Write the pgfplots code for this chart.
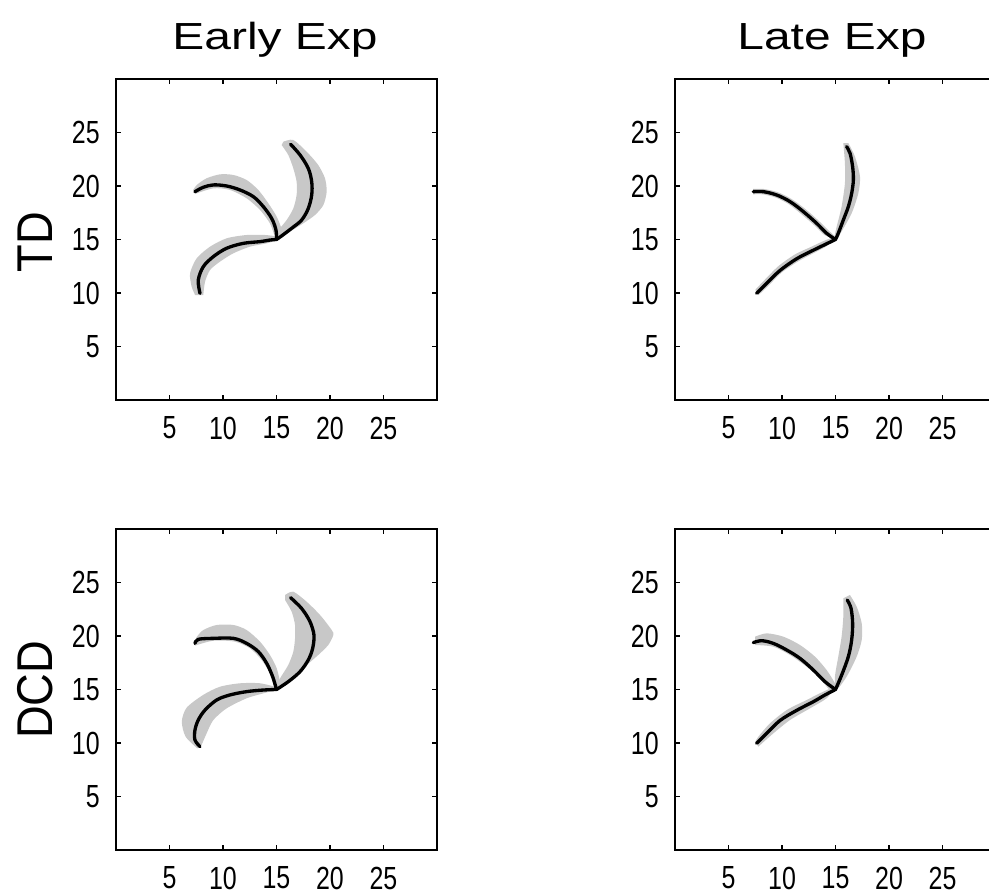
\documentclass[border=0pt]{standalone}
\usepackage{pgfplots}
\pgfplotsset{compat=1.18}
\usepackage{graphicx}
\usepackage{fontspec}
\setmainfont{Liberation Sans}
\definecolor{band}{RGB}{200,200,200}
\newcommand\sx[1]{\scalebox{0.78}[1]{#1}}
\pgfplotsset{
  panel/.style={
    scale only axis, width=240.75pt, height=240.75pt,
    xmin=0, xmax=30, ymin=0, ymax=30,
    xtick={5,10,15,20,25}, ytick={5,10,15,20,25},
    xticklabels={\sx{5},\sx{10},\sx{15},\sx{20},\sx{25}},
    yticklabels={\sx{5},\sx{10},\sx{15},\sx{20},\sx{25}},
    tick align=inside, major tick length=4pt,
    every tick/.style={black, line width=0.9pt},
    axis line style={black, line width=1.2pt},
    tick label style={font=\fontsize{24pt}{24pt}\selectfont, inner sep=0pt},
    xticklabel style={anchor=north, yshift=-12.5pt},
    yticklabel style={anchor=east, xshift=-12pt},
    anchor=south west,
  },
  bandst/.style={fill=band, draw=none, smooth, tension=0.45},
  linest/.style={black, line width=2.5pt, smooth, tension=0.55, line join=round, line cap=round},
}
\begin{document}
\begin{tikzpicture}[x=1pt,y=1pt]
% ---------- Early Exp / TD ----------
\begin{axis}[panel, at={(87pt,371.25pt)}]
\addplot[bandst] coordinates {(7.2,19.6) (7.54,20.09) (8.47,20.72) (9.72,21.09) (10.97,21.03) (12.21,20.56) (13.3,19.63) (14.24,18.38) (15.02,17.13) (15.48,15.89) (15.2,15.0) (14.86,15.26) (14.39,16.5) (13.46,17.76) (12.21,18.85) (10.65,19.63) (9.1,19.78) (7.38,19.25)} -- cycle;
\addplot[bandst] coordinates {(15.64,24.14) (16.57,24.3) (17.82,23.2) (18.9,21.96) (19.53,20.72) (19.69,19.47) (19.38,18.22) (18.6,17.29) (17.5,16.51) (16.26,15.73) (15.2,15.1) (15.0,15.6) (15.95,16.82) (16.57,17.9) (16.88,19.16) (16.88,20.4) (16.57,21.65) (16.1,22.9) (15.48,23.83)} -- cycle;
\addplot[bandst] coordinates {(7.4,9.8) (7.07,10.59) (6.92,11.84) (7.54,13.24) (8.79,14.33) (10.34,15.11) (12.21,15.42) (13.93,15.42) (15.02,15.26) (15.02,14.95) (14.08,14.64) (12.52,14.33) (10.97,13.71) (9.72,12.93) (8.79,12.15) (8.32,11.05) (8.16,9.81)} -- cycle;
\addplot[linest] coordinates {(7.38,19.47) (8.16,19.88) (9.1,20.1) (10.34,20.0) (11.59,19.63) (12.84,19.0) (13.77,18.07) (14.55,16.97) (14.95,15.89) (15,15)};
\addplot[linest] coordinates {(16.32,23.9) (17.2,22.9) (17.97,21.65) (18.29,20.4) (18.29,19.16) (17.97,17.9) (17.35,16.82) (16.42,16.05) (15.5,15.35) (15,15)};
\addplot[linest] coordinates {(7.85,9.97) (7.69,11.21) (8.16,12.46) (9.1,13.4) (10.34,14.18) (11.9,14.64) (13.46,14.8) (14.39,14.95) (15,15)};
\end{axis}
% ---------- Late Exp / TD ----------
\begin{axis}[panel, at={(506.25pt,371.25pt)}]
\addplot[bandst] coordinates {(7.3,19.72) (8.3,19.72) (9.6,19.42) (10.9,18.78) (12.2,17.83) (13.45,16.73) (14.4,15.8) (15.1,15.1) (14.0,15.4) (13.05,16.3) (11.8,17.38) (10.6,18.32) (9.4,18.92) (8.2,19.22) (7.3,19.22)} -- cycle;
\addplot[bandst] coordinates {(16.2,24.0) (16.82,22.74) (17.29,20.87) (17.13,19.31) (16.51,17.45) (15.6,15.8) (15.1,15.0) (14.9,15.2) (15.11,16.2) (15.57,18.07) (15.88,20.25) (15.88,22.12) (15.73,24.0)} -- cycle;
\addplot[bandst] coordinates {(7.5,10.3) (8.4,11.25) (9.65,12.5) (11.2,13.6) (12.8,14.35) (14.1,14.95) (15,15.2) (14.2,14.4) (13.0,13.75) (11.5,12.95) (9.95,11.9) (8.75,10.7) (7.8,9.8)} -- cycle;
\addplot[linest] coordinates {(7.32,19.47) (8.26,19.47) (9.5,19.16) (10.75,18.54) (12.0,17.6) (13.24,16.51) (14.17,15.58) (15,15)};
\addplot[linest] coordinates {(16.04,23.68) (16.36,23.05) (16.6,21.81) (16.67,20.56) (16.51,19.31) (16.2,18.07) (15.73,16.82) (15.26,15.58) (15,15)};
\addplot[linest] coordinates {(7.63,9.97) (8.57,10.9) (9.81,12.1) (11.37,13.2) (12.93,14.0) (14.17,14.6) (15,15)};
\end{axis}
% ---------- Early Exp / DCD ----------
\begin{axis}[panel, at={(87pt,33.75pt)}]
\addplot[bandst] coordinates {(7.3,19.4) (7.54,19.9) (8.16,20.56) (9.41,21.03) (10.97,21.03) (12.21,20.56) (13.46,19.47) (14.39,18.22) (15.02,16.98) (15.33,15.58) (15.1,15.0) (14.8,15.26) (14.39,16.5) (13.61,17.76) (12.52,18.85) (11.12,19.47) (9.1,19.56) (7.38,19.1)} -- cycle;
\addplot[bandst] coordinates {(15.8,23.83) (16.57,24.14) (17.82,23.2) (19.07,21.96) (20.16,20.56) (20.31,20.09) (19.84,19.16) (18.9,18.22) (17.82,17.29) (16.57,16.2) (15.33,15.26) (14.86,15.11) (15.33,16.04) (16.1,17.29) (16.57,18.53) (16.73,19.78) (16.73,21.03) (16.42,22.27) (15.8,23.36)} -- cycle;
\addplot[bandst] coordinates {(7.6,9.5) (6.5,10.6) (6.15,12.0) (6.6,13.3) (8.16,14.5) (9.72,15.26) (11.59,15.58) (13.46,15.58) (15.0,15.2) (14.86,14.95) (13.77,14.64) (12.21,14.18) (10.34,13.24) (9.1,12.15) (8.47,10.9) (8.0,9.81)} -- cycle;
\addplot[linest] coordinates {(7.38,19.31) (7.69,19.69) (9.1,19.78) (10.97,19.78) (12.21,19.31) (13.3,18.54) (14.08,17.45) (14.64,16.2) (15,15)};
\addplot[linest] coordinates {(16.32,23.58) (17.35,22.57) (18.13,21.34) (18.5,20.09) (18.38,18.85) (17.97,17.76) (17.2,16.67) (16.1,15.73) (15,15)};
\addplot[linest] coordinates {(7.85,9.66) (7.38,10.28) (7.38,11.21) (7.69,12.15) (8.32,13.08) (9.41,14.02) (10.65,14.49) (12.21,14.8) (13.77,14.95) (15,15)};
\end{axis}
% ---------- Late Exp / DCD ----------
\begin{axis}[panel, at={(506.25pt,33.75pt)}]
\addplot[bandst] coordinates {(7.48,19.94) (8.57,20.25) (10.12,19.94) (11.68,19.16) (13.08,18.07) (14.17,16.82) (14.95,15.58) (15.1,15.0) (14.48,14.95) (13.55,16.04) (12.3,17.13) (10.75,18.22) (9.19,19.0) (7.48,19.16)} -- cycle;
\addplot[bandst] coordinates {(16.35,23.83) (16.98,22.74) (17.45,21.18) (17.45,19.63) (16.98,18.07) (16.04,16.2) (15.1,15.0) (14.95,16.2) (15.26,18.07) (15.57,19.94) (15.73,21.81) (15.73,23.52)} -- cycle;
\addplot[bandst] coordinates {(7.5,10.1) (7.79,10.59) (8.88,11.84) (10.44,13.08) (12.3,14.02) (13.86,14.8) (14.9,15.2) (14.17,14.18) (12.62,13.24) (10.75,12.15) (9.19,10.9) (7.79,9.66)} -- cycle;
\addplot[linest] coordinates {(7.32,19.38) (8.1,19.56) (9.19,19.31) (10.44,18.69) (11.68,17.91) (12.93,16.82) (14.02,15.73) (15,15)};
\addplot[linest] coordinates {(16.1,23.36) (16.45,22.59) (16.6,21.18) (16.51,19.63) (16.2,18.07) (15.58,16.36) (15,15)};
\addplot[linest] coordinates {(7.63,9.97) (8.57,10.9) (9.81,12.1) (11.37,13.05) (12.93,13.86) (14.02,14.49) (15,15)};
\end{axis}
% ---------- titles and row labels ----------
\node[anchor=base, font=\fontsize{28.3pt}{30pt}\selectfont] at (206.25pt,633.75pt) {\scalebox{1.27}[1]{Early Exp}};
\node[anchor=base, font=\fontsize{28.3pt}{30pt}\selectfont] at (624pt,633.75pt) {\scalebox{1.27}[1]{Late Exp}};
\node[anchor=base, rotate=90, font=\fontsize{37.7pt}{40pt}\selectfont] at (39pt,489.75pt) {\scalebox{0.9}[1]{TD}};
\node[anchor=base, rotate=90, font=\fontsize{37.7pt}{40pt}\selectfont] at (39pt,153.75pt) {\scalebox{0.9}[1]{DCD}};
\pgfresetboundingbox
\path (0pt,0pt) rectangle (741.75pt,671.25pt);
\end{tikzpicture}
\end{document}
